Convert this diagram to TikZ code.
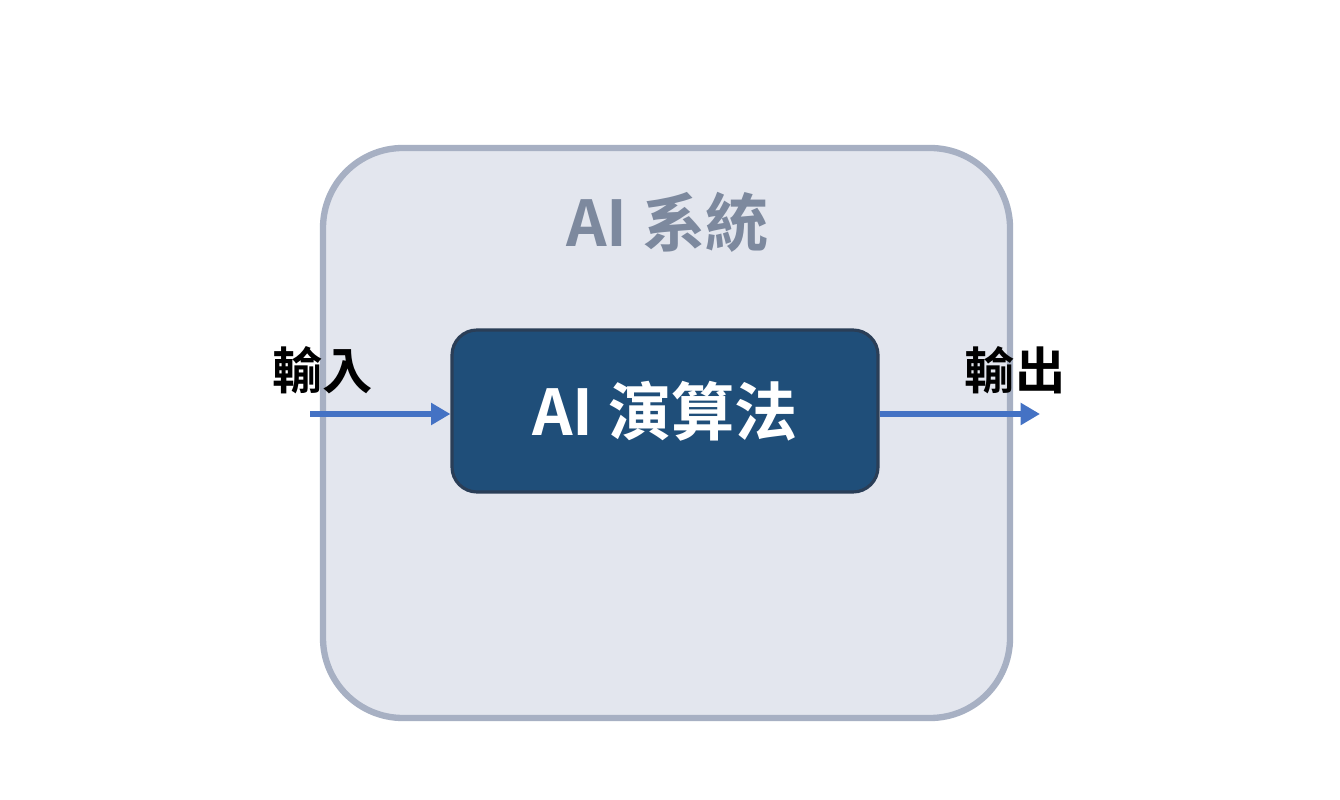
\documentclass[tikz,border=0pt]{standalone}
\usepackage{fontspec}
\newfontfamily\cjk{Noto Sans CJK TC}[BoldFont={Noto Sans CJK TC Bold}]
\usetikzlibrary{arrows.meta}
\definecolor{outerfill}{HTML}{E3E6EE}
\definecolor{outerline}{HTML}{A7B0C3}
\definecolor{titlecol}{HTML}{7D899E}
\definecolor{innerfill}{HTML}{1F4E79}
\definecolor{innerline}{HTML}{2A3E57}
\definecolor{arrowcol}{HTML}{4472C4}
\tikzset{
  outerbox/.style={draw=outerline, fill=outerfill, line width=1.8pt, rounded corners=0.8cm, minimum width=6.87cm, minimum height=5.70cm},
  innerbox/.style={draw=innerline, fill=innerfill, line width=0.9pt, rounded corners=0.25cm, minimum width=4.26cm, minimum height=1.62cm, text=white, font=\cjk\bfseries\fontsize{18}{21}\selectfont},
  flow/.style={draw=arrowcol, line width=1.5pt, -{Triangle[length=5.5pt,width=6pt]}},
  iolabel/.style={font=\cjk\bfseries\fontsize{14.3}{17}\selectfont, text=black},
}
\begin{document}
\begin{tikzpicture}
\useasboundingbox[fill=white] (0,0) rectangle (13.4,8);
\node[outerbox] (sys) at (6.665,3.67) {};
\node[font=\cjk\bfseries\fontsize{18}{21}\selectfont, text=titlecol] (title) at (6.675,5.78) {AI 系統};
\node[innerbox] (algo) at (6.65,3.89) {AI 演算法};
\coordinate (inS) at (3.10,3.86);
\coordinate (outE) at (10.40,3.86);
\draw[flow] (inS) -- (algo.west |- inS);
\draw[flow] (algo.east |- outE) -- (outE);
\node[iolabel] (inL) at (3.225,4.30) {輸入};
\node[iolabel] (outL) at (10.15,4.30) {輸出};
\end{tikzpicture}
\end{document}
